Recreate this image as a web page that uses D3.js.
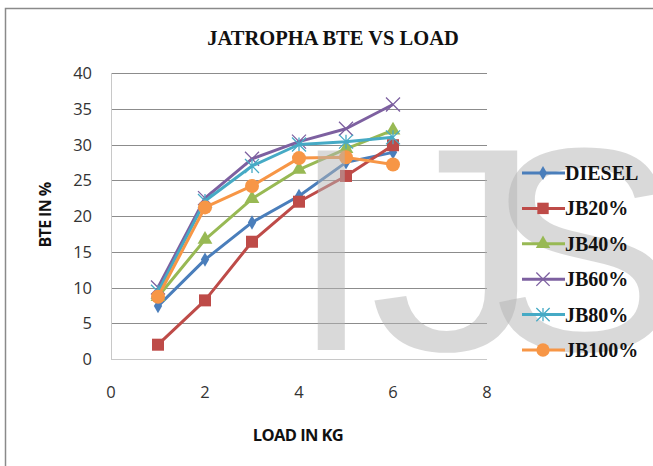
<!DOCTYPE html>
<html>
<head>
<meta charset="utf-8">
<script src="https://cdn.jsdelivr.net/npm/d3@7"></script>
<style>
  body { margin: 0; background: #fff; }
  svg { display: block; }
</style>
</head>
<body>
<div id="chart"></div>
<script>
// data
var loads = [1, 2, 3, 4, 5, 6];
var seriesNames = ["DIESEL", "JB20%", "JB40%", "JB60%", "JB80%", "JB100%"];
var diesel = [7.4, 13.9, 19.1, 22.8, 27.5, 28.9];
var jb20   = [2.0, 8.2, 16.4, 22.0, 25.6, 29.9];
var jb40   = [8.7, 16.7, 22.4, 26.5, 29.4, 32.0];
var jb60   = [10.0, 22.5, 28.0, 30.4, 32.2, 35.6];
var jb80   = [9.4, 22.1, 27.0, 30.0, 30.4, 31.0];
var jb100  = [8.7, 21.2, 24.2, 28.1, 28.2, 27.2];
var xTicks = [0, 2, 4, 6, 8];
var yTicks = [0, 5, 10, 15, 20, 25, 30, 35, 40];

var allValues = [diesel, jb20, jb40, jb60, jb80, jb100];
var colours = ["#4a7ebb", "#be4b48", "#98b954", "#7d60a0", "#46aac5", "#f79646"];
var shapes = ["diamond", "square", "triangle", "cross", "star", "circle"];

var W = 653, H = 466;
var margin = { top: 73, left: 111 };
var width = 376, height = 286;

var svg = d3.select("#chart").append("svg")
  .attr("width", W)
  .attr("height", H);

// frame
svg.append("rect")
  .attr("x", 5.5).attr("y", 8.5)
  .attr("width", 700).attr("height", 500)
  .attr("fill", "none")
  .attr("stroke", "#8a8a8a")
  .attr("stroke-width", 1.5);

var x = d3.scaleLinear().domain([0, 8]).range([0, width]);
var y = d3.scaleLinear().domain([0, 40]).range([height, 0]);

var g = svg.append("g")
  .attr("transform", "translate(" + margin.left + "," + margin.top + ")");

// gridlines
g.selectAll(".grid")
  .data(yTicks)
  .enter().append("line")
  .attr("x1", 0).attr("x2", width)
  .attr("y1", function(d) { return Math.round(y(d)) + 0.5; })
  .attr("y2", function(d) { return Math.round(y(d)) + 0.5; })
  .attr("stroke", function(d) { return d == 0 ? "#c8c8c8" : "#8c8c8c"; })
  .attr("stroke-width", 1);

g.append("line")
  .attr("x1", 0.5).attr("x2", 0.5)
  .attr("y1", 0).attr("y2", height)
  .attr("stroke", "#c8c8c8");

// watermark (sits over the grid, under the series)
var mark = svg.append("g")
  .attr("font-family", "Liberation Sans, Arial, sans-serif")
  .attr("font-size", 290)
  .attr("fill", "#b4b4b4")
  .attr("fill-opacity", 0.5);
mark.append("text").attr("x", 291).attr("y", 350).text("I");
mark.append("text").attr("transform", "translate(369,350) scale(1.2,1)").text("J");
mark.append("text").attr("x", 486).attr("y", 350).text("S");

// tick labels
g.selectAll(".ytick")
  .data(yTicks)
  .enter().append("text")
  .attr("x", -19)
  .attr("y", function(d) { return y(d) + 6; })
  .attr("text-anchor", "end")
  .attr("font-family", "Open Sans, Liberation Sans, sans-serif")
  .attr("font-size", 16.5)
  .attr("fill", "#333")
  .text(function(d) { return d; });

g.selectAll(".xtick")
  .data(xTicks)
  .enter().append("text")
  .attr("x", function(d) { return x(d); })
  .attr("y", height + 39)
  .attr("text-anchor", "middle")
  .attr("font-family", "Open Sans, Liberation Sans, sans-serif")
  .attr("font-size", 16.5)
  .attr("fill", "#333")
  .text(function(d) { return d; });

// titles
svg.append("text")
  .attr("x", 333).attr("y", 45)
  .attr("text-anchor", "middle")
  .attr("font-family", "Liberation Serif, Times New Roman, serif")
  .attr("font-weight", "bold")
  .attr("font-size", 20.5)
  .attr("fill", "#111")
  .text("JATROPHA BTE VS LOAD");

svg.append("text")
  .attr("transform", "translate(51,215) rotate(-90)")
  .attr("text-anchor", "middle")
  .attr("font-family", "Open Sans, Liberation Sans, sans-serif")
  .attr("font-weight", "bold")
  .attr("font-size", 16)
  .attr("letter-spacing", -0.6)
  .attr("fill", "#111")
  .text("BTE IN %");

svg.append("text")
  .attr("x", 298).attr("y", 441)
  .attr("text-anchor", "middle")
  .attr("font-family", "Open Sans, Liberation Sans, sans-serif")
  .attr("font-weight", "bold")
  .attr("font-size", 16.5)
  .attr("letter-spacing", -0.6)
  .attr("fill", "#111")
  .text("LOAD IN KG");

function drawMarker(sel, shape, colour, cx, cy, scale) {
  var s = scale || 1;
  if (shape == "diamond") {
    sel.append("path")
      .attr("d", d3.symbol(d3.symbolDiamond, 60 * s)())
      .attr("transform", "translate(" + cx + "," + cy + ")")
      .attr("fill", colour);
  } else if (shape == "square") {
    sel.append("rect")
      .attr("x", cx - 6 * s).attr("y", cy - 6 * s)
      .attr("width", 12 * s).attr("height", 12 * s)
      .attr("fill", colour);
  } else if (shape == "triangle") {
    sel.append("path")
      .attr("d", d3.symbol(d3.symbolTriangle, 95 * s)())
      .attr("transform", "translate(" + cx + "," + cy + ")")
      .attr("fill", colour);
  } else if (shape == "cross") {
    var r = 7 * s;
    sel.append("path")
      .attr("d", "M" + (cx - r) + "," + (cy - r) + "L" + (cx + r) + "," + (cy + r) +
                 "M" + (cx - r) + "," + (cy + r) + "L" + (cx + r) + "," + (cy - r))
      .attr("stroke", colour).attr("stroke-width", 1.3).attr("fill", "none");
  } else if (shape == "star") {
    var r2 = 7 * s;
    sel.append("path")
      .attr("d", "M" + (cx - r2) + "," + (cy - r2) + "L" + (cx + r2) + "," + (cy + r2) +
                 "M" + (cx - r2) + "," + (cy + r2) + "L" + (cx + r2) + "," + (cy - r2) +
                 "M" + cx + "," + (cy - r2) + "L" + cx + "," + (cy + r2))
      .attr("stroke", colour).attr("stroke-width", 1.3).attr("fill", "none");
  } else if (shape == "circle") {
    sel.append("circle")
      .attr("cx", cx).attr("cy", cy).attr("r", 7 * s)
      .attr("fill", colour);
  }
}

var line = d3.line()
  .x(function(d, i) { return x(loads[i]); })
  .y(function(d) { return y(d); });

allValues.forEach(function(vals, k) {
  var sg = g.append("g");
  sg.append("path")
    .datum(vals)
    .attr("d", line)
    .attr("fill", "none")
    .attr("stroke", colours[k])
    .attr("stroke-width", 3)
    .attr("stroke-linejoin", "round");
  vals.forEach(function(v, i) {
    drawMarker(sg, shapes[k], colours[k], x(loads[i]), y(v));
  });
});

// legend
var legend = svg.append("g");
seriesNames.forEach(function(name, k) {
  var ly = 173 + k * 35.4;
  legend.append("line")
    .attr("x1", 522).attr("x2", 565)
    .attr("y1", ly).attr("y2", ly)
    .attr("stroke", colours[k]).attr("stroke-width", 3);
  drawMarker(legend, shapes[k], colours[k], 543, ly, 0.95);
  legend.append("text")
    .attr("x", 565).attr("y", ly + 7)
    .attr("font-family", "Liberation Serif, Times New Roman, serif")
    .attr("font-weight", "bold")
    .attr("font-size", 20)
    .attr("fill", "#111")
    .text(name);
});
</script>
</body>
</html>
